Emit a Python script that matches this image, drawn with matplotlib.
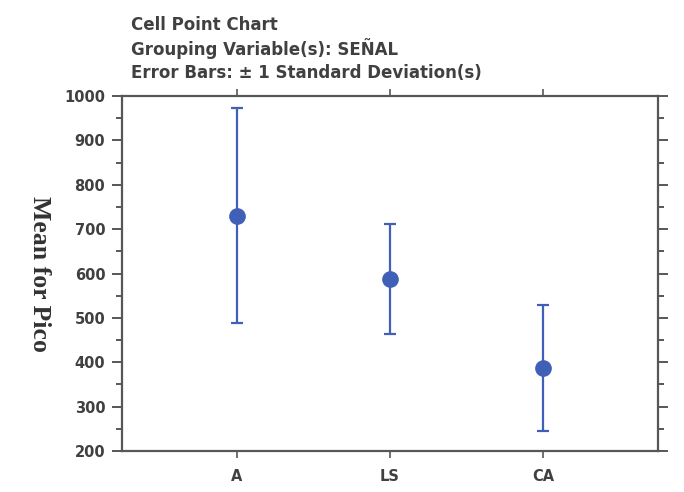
import matplotlib
matplotlib.use('Agg')
import matplotlib.pyplot as plt
from matplotlib.ticker import MultipleLocator

# group means and standard deviations
groups = ['A', 'LS', 'CA']
means = [730, 588, 387]
sds = [242, 124, 143]

title_lines = ['Cell Point Chart',
	'Grouping Variable(s): SEÑAL',
	'Error Bars: ± 1 Standard Deviation(s)']

axis_col = '#55585a'
text_col = '#404040'
point_col = '#4060b8'

fig = plt.figure(figsize=(6.84, 4.92), dpi=100)
ax = fig.add_axes([122 / 684, 1 - 451 / 492, 536 / 684, 355 / 492])

xs = list(range(len(groups)))
ax.errorbar(xs, means, yerr=sds, fmt='o', color=point_col, ecolor=point_col,
	markersize=11, elinewidth=1.6, capsize=4, capthick=1.6, zorder=3)

ax.set_xlim(-0.75, 2.75)
ax.set_ylim(200, 1000)
ax.set_xticks(xs)
ax.set_xticklabels(groups, fontsize=10.5, color=text_col, fontweight='bold',
	family='DejaVu Sans')
ax.yaxis.set_major_locator(MultipleLocator(100))
ax.yaxis.set_minor_locator(MultipleLocator(50))
for lab in ax.get_yticklabels():
	lab.set_fontsize(10.5)
	lab.set_color(text_col)
	lab.set_fontweight('bold')
	lab.set_family('DejaVu Sans')

for s in ax.spines.values():
	s.set_color(axis_col)
	s.set_linewidth(1.6)

ax.tick_params(axis='y', which='both', direction='out', left=True, right=True,
	color=axis_col, width=1.4)
ax.tick_params(axis='y', which='major', length=7, pad=5)
ax.tick_params(axis='y', which='minor', length=4)
ax.tick_params(axis='x', direction='out', top=True, bottom=True, length=5,
	color=axis_col, width=1.2, pad=8)

ax.set_ylabel('Mean for Pico', rotation=270, fontsize=18.5, fontweight='bold',
	family='Liberation Serif', color='#333333')
ax.yaxis.set_label_coords(-0.175, 0.5)

for i, line in enumerate(title_lines):
	fig.text(131 / 684, 1 - (25 + 24 * i) / 492, line, fontsize=12,
		fontweight='bold', color=text_col, family='DejaVu Sans', va='center')

fig.savefig('out.png', dpi=100)
